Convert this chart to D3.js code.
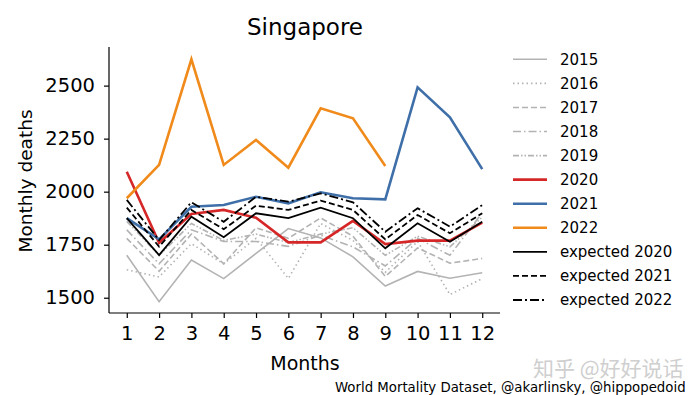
<!DOCTYPE html>
<html>
<head>
<meta charset="utf-8">
<script src="https://cdn.jsdelivr.net/npm/d3@7"></script>
<style>
  body { margin: 0; background: #fff; }
  svg { display: block; font-family: "DejaVu Sans", sans-serif; }
  .axis path, .axis line { stroke: #000; stroke-width: 1.2; }
  .axis text { font-size: 19.5px; fill: #000; font-family: "DejaVu Sans", sans-serif; }
</style>
</head>
<body>
<svg id="chart" width="696" height="395"></svg>
<script>
// data
const months = [1, 2, 3, 4, 5, 6, 7, 8, 9, 10, 11, 12];
const y2015 = [1700, 1481, 1678, 1590, 1709, 1826, 1782, 1693, 1555, 1624, 1592, 1618];
const y2016 = [1632, 1598, 1755, 1660, 1780, 1591, 1850, 1770, 1620, 1765, 1515, 1590];
const y2017 = [1780, 1625, 1800, 1660, 1830, 1780, 1876, 1790, 1600, 1735, 1663, 1685];
const y2018 = [1820, 1660, 1820, 1765, 1765, 1742, 1795, 1740, 1650, 1780, 1700, 1900];
const y2019 = [1860, 1700, 1850, 1770, 1800, 1760, 1800, 1830, 1700, 1790, 1740, 1880];
const y2020 = [2094, 1759, 1895, 1914, 1877, 1761, 1761, 1862, 1753, 1769, 1769, 1854];
const y2021 = [1875, 1775, 1929, 1937, 1976, 1945, 1997, 1969, 1964, 2492, 2351, 2106];
const y2022 = [1969, 2126, 2624, 2126, 2244, 2113, 2393, 2346, 2121];
const exp2020 = [1875, 1701, 1882, 1785, 1898, 1875, 1925, 1875, 1733, 1851, 1764, 1858];
const exp2021 = [1925, 1741, 1914, 1823, 1934, 1914, 1958, 1914, 1775, 1890, 1804, 1898];
const exp2022 = [1961, 1772, 1950, 1858, 1976, 1953, 1992, 1950, 1811, 1922, 1835, 1937];
const yTicks = [1500, 1750, 2000, 2250, 2500];

const series = [
  {name: '2015', values: y2015, color: '#b3b3b3', width: 1.6, dash: null},
  {name: '2016', values: y2016, color: '#b3b3b3', width: 1.6, dash: '1.5,3'},
  {name: '2017', values: y2017, color: '#b3b3b3', width: 1.6, dash: '6,3'},
  {name: '2018', values: y2018, color: '#b3b3b3', width: 1.6, dash: '8,3,1.5,3'},
  {name: '2019', values: y2019, color: '#b3b3b3', width: 1.6, dash: '6,2,1.5,2,1.5,2'},
  {name: '2020', values: y2020, color: '#d62728', width: 2.6, dash: null},
  {name: '2021', values: y2021, color: '#3f6fa8', width: 2.6, dash: null},
  {name: '2022', values: y2022, color: '#f08a1a', width: 2.6, dash: null},
  {name: 'expected 2020', values: exp2020, color: '#000', width: 1.8, dash: null},
  {name: 'expected 2021', values: exp2021, color: '#000', width: 1.8, dash: '6,3'},
  {name: 'expected 2022', values: exp2022, color: '#000', width: 1.8, dash: '9,3,2,3'}
];

const svg = d3.select('#chart');

const plotLeft = 109, plotRight = 500, plotTop = 47, plotBottom = 313;

const xScale = d3.scaleLinear().domain([0.45, 12.55]).range([plotLeft, plotRight]);
const yScale = d3.scaleLinear().domain([1428, 2682]).range([plotBottom, plotTop]);

// lines
const line = d3.line()
    .x(function (d, i) { return xScale(months[i]); })
    .y(function (d) { return yScale(d); });

svg.append('g').selectAll('path')
    .data(series)
    .enter()
    .append('path')
    .attr('d', function (s) { return line(s.values); })
    .attr('fill', 'none')
    .attr('stroke', function (s) { return s.color; })
    .attr('stroke-width', function (s) { return s.width; })
    .attr('stroke-dasharray', function (s) { return s.dash; })
    .attr('stroke-linejoin', 'miter');

// axes
const xAxis = svg.append('g')
    .attr('class', 'axis')
    .attr('transform', 'translate(0,' + plotBottom + ')')
    .call(d3.axisBottom(xScale).tickValues(months).tickFormat(d3.format('d')).tickSize(5).tickPadding(8).tickSizeOuter(0));
xAxis.select('.domain').attr('d', 'M' + plotLeft + ',0H' + plotRight);

const yAxis = svg.append('g')
    .attr('class', 'axis')
    .attr('transform', 'translate(' + plotLeft + ',0)')
    .call(d3.axisLeft(yScale).tickValues(yTicks).tickFormat(d3.format('d')).tickSize(5).tickPadding(9).tickSizeOuter(0));
yAxis.select('.domain').attr('d', 'M0,' + plotTop + 'V' + plotBottom);

// labels
svg.append('text')
    .attr('x', 305)
    .attr('y', 35)
    .attr('text-anchor', 'middle')
    .style('font-size', '23px')
    .text('Singapore');

svg.append('text')
    .attr('transform', 'translate(32,181) rotate(-90)')
    .attr('text-anchor', 'middle')
    .style('font-size', '18.5px')
    .text('Monthly deaths');

svg.append('text')
    .attr('x', 305)
    .attr('y', 370)
    .attr('text-anchor', 'middle')
    .style('font-size', '19px')
    .text('Months');

svg.append('text')
    .attr('x', 335)
    .attr('y', 392)
    .style('font-size', '13.3px')
    .text('World Mortality Dataset, @akarlinsky, @hippopedoid');

svg.append('text')
    .attr('x', 533)
    .attr('y', 376)
    .attr('fill', '#cfcfcf')
    .style('font-size', '21px')
    .style('font-family', '"Noto Sans CJK SC", sans-serif')
    .text('知乎 @好好说话');

// legend
const legend = svg.append('g').selectAll('g')
    .data(series)
    .enter()
    .append('g')
    .attr('transform', function (s, i) { return 'translate(513,' + (59.3 + i * 24.07) + ')'; });

legend.append('line')
    .attr('x1', 0).attr('x2', 34)
    .attr('stroke', function (s) { return s.color; })
    .attr('stroke-width', function (s) { return s.width; })
    .attr('stroke-dasharray', function (s) { return s.dash; });

legend.append('text')
    .attr('x', 47)
    .attr('dy', '0.35em')
    .style('font-size', '15px')
    .text(function (s) { return s.name; });
</script>
</body>
</html>
